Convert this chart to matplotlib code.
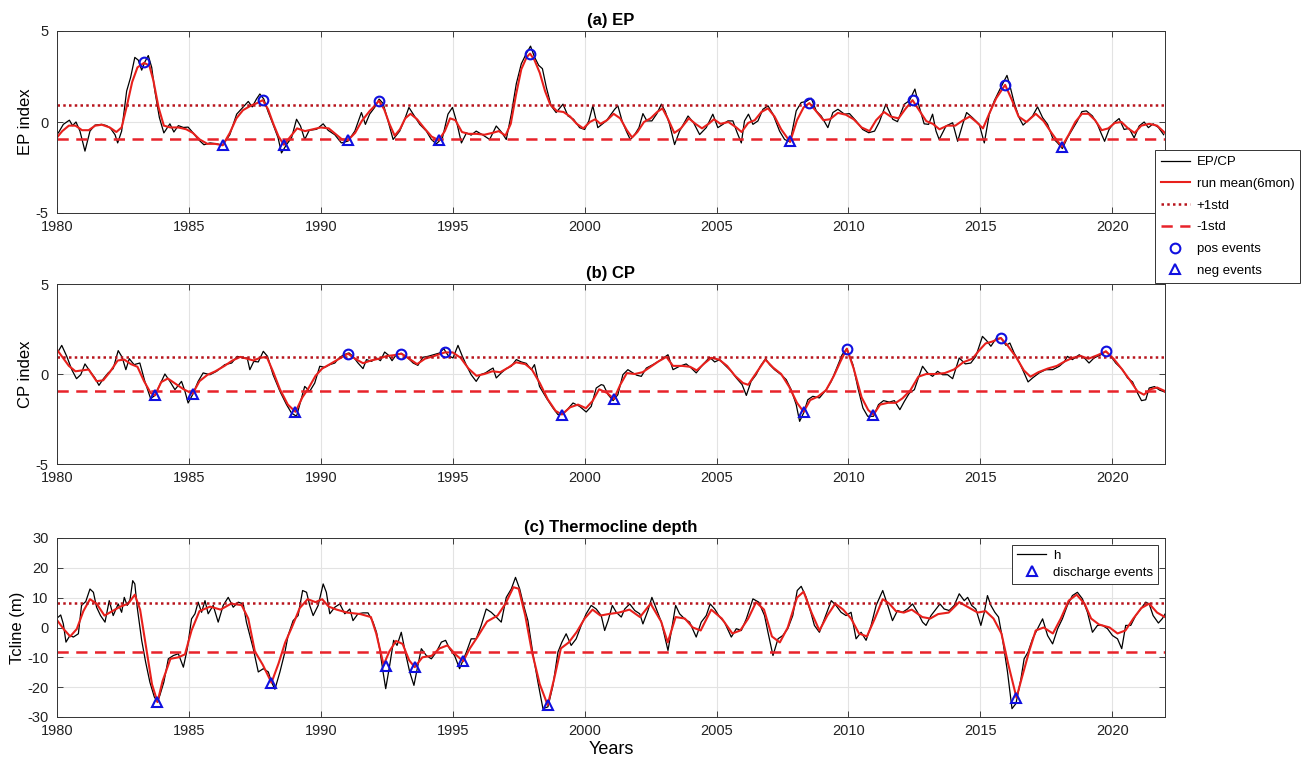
import matplotlib
matplotlib.use("Agg")
import matplotlib.pyplot as plt
import numpy as np

plt.rcParams['font.family'] = ['Liberation Sans', 'DejaVu Sans']
plt.rcParams['axes.unicode_minus'] = False

# ---------------- EP index ----------------
ep_t = [1980.05,1980.24,1980.47,1980.59,1980.72,1980.87,1981.06,1981.25,1981.44,1981.69,1981.88,1982.03,1982.2,1982.3,1982.45,1982.64,1982.79,1982.95,1983.08,1983.21,1983.33,1983.46,1983.59,1983.71,1983.88,1984.05,1984.28,1984.43,1984.6,1984.79,1984.97,1985.16,1985.35,1985.57,1985.8,1986.05,1986.28,1986.55,1986.81,1987.06,1987.25,1987.4,1987.56,1987.69,1987.84,1988.0,1988.19,1988.38,1988.51,1988.7,1988.89,1989.08,1989.23,1989.39,1989.56,1989.84,
        1990.09,1990.28,1990.53,1990.78,1991.03,1991.29,1991.54,1991.69,1991.85,1992.04,1992.21,1992.36,1992.55,1992.74,1992.99,1993.18,1993.34,1993.52,1993.75,1994.0,1994.19,1994.38,1994.61,1994.82,1994.99,1995.14,1995.33,1995.52,1995.7,1995.89,1996.15,1996.4,1996.65,1996.84,1997.03,1997.22,1997.41,1997.6,1997.79,1997.95,1998.1,1998.26,1998.4,1998.55,1998.73,1998.92,1999.18,1999.37,1999.58,1999.81,2000.0,2000.16,2000.31,2000.5,
        2000.82,2001.14,2001.26,2001.42,2001.58,2001.73,2001.9,2002.06,2002.21,2002.36,2002.55,2002.74,2002.91,2003.06,2003.22,2003.41,2003.6,2003.92,2004.13,2004.36,2004.61,2004.86,2005.05,2005.24,2005.43,2005.62,2005.77,2005.94,2006.06,2006.21,2006.38,2006.57,2006.76,2006.95,2007.14,2007.39,2007.58,2007.79,2008.02,2008.21,2008.4,2008.59,2008.78,2008.97,2009.22,2009.41,2009.6,2009.85,2010.04,2010.29,2010.54,2010.77,2010.99,
        2011.17,2011.42,2011.68,2011.86,2012.12,2012.31,2012.52,2012.69,2012.87,2013.04,2013.19,2013.32,2013.44,2013.7,2013.95,2014.14,2014.33,2014.48,2014.7,2014.96,2015.15,2015.34,2015.53,2015.78,2016.01,2016.12,2016.28,2016.47,2016.62,2016.79,2016.98,2017.17,2017.36,2017.55,2017.74,2017.93,2018.11,2018.3,2018.49,2018.68,2018.85,2019.02,2019.25,2019.44,2019.57,2019.71,2019.88,2020.07,2020.26,2020.45,2020.64,2020.83,2021.02,2021.21,2021.37,2021.55,2021.75,2021.95]
ep_v = [-0.6,-0.13,0.1,-0.2,0.0,-0.5,-1.6,-0.5,-0.17,-0.13,-0.2,-0.35,-0.7,-1.15,-0.5,1.7,2.45,3.55,3.4,2.85,3.3,3.65,3.0,1.7,0.25,-0.6,-0.1,-0.55,-0.2,-0.3,-0.28,-0.6,-0.95,-1.25,-1.15,-1.2,-1.28,-0.7,0.43,0.83,1.13,0.83,1.26,1.54,1.26,0.57,-0.13,-0.87,-1.7,-1.24,-0.87,0.15,-0.22,-0.96,-0.46,-0.4,
        -0.1,-0.46,-0.7,-1.15,-1.05,-0.5,0.52,-0.13,0.43,0.8,1.26,1.02,0.05,-0.96,-0.5,0.15,0.8,0.39,-0.13,-0.5,-0.96,-1.2,-0.87,0.43,0.8,0.05,-1.15,-0.6,-0.72,-0.5,-0.72,-0.96,-0.22,-0.54,-0.96,0.43,2.1,3.2,3.76,4.17,3.57,3.11,2.93,1.9,0.89,0.52,0.98,0.33,0.15,-0.31,-0.41,0.06,0.89,-0.31,
        0.06,0.7,0.89,0.06,-0.5,-0.96,-0.69,-0.31,0.46,0.06,0.06,0.46,0.98,0.57,-0.13,-1.24,-0.5,0.33,-0.04,-0.69,-0.31,0.43,-0.31,-0.13,0.06,0.06,-0.54,-1.15,0.06,0.43,-0.13,0.06,0.7,0.89,0.43,-0.5,-0.96,-1.09,0.61,1.07,1.13,1.31,0.61,0.33,-0.31,0.52,0.7,0.43,0.46,0.06,-0.41,-0.59,-0.5,
        0.0,0.98,0.15,0.02,0.98,1.17,1.81,0.8,-0.1,-0.13,0.43,-0.5,-0.96,-0.22,-0.04,-1.06,-0.13,0.52,0.24,-0.13,-1.15,0.43,1.17,1.91,2.56,2.0,1.07,0.24,-0.17,0.06,0.33,0.83,0.24,-0.13,-0.87,-1.15,-1.46,-0.87,-0.41,0.06,0.57,0.61,0.33,-0.13,-0.59,-1.06,-0.41,-0.04,0.19,-0.41,-0.35,-0.87,-0.22,0.0,-0.31,-0.1,-0.3,-0.7]

ep_sm_t = [1980.0,1980.2,1980.45,1980.7,1980.95,1981.2,1981.45,1981.7,1982.0,1982.25,1982.45,1982.65,1982.85,1983.05,1983.3,1983.5,1983.65,1983.85,1984.05,1984.3,1984.6,1984.9,1985.15,1985.4,1985.7,1986.0,1986.28,1986.55,1986.8,1987.05,1987.35,1987.6,1987.8,1988.0,1988.2,1988.4,1988.6,1988.85,1989.1,1989.4,1989.7,
           1990.0,1990.3,1990.55,1990.8,1991.03,1991.3,1991.55,1991.85,1992.05,1992.2,1992.4,1992.6,1992.8,1993.0,1993.2,1993.4,1993.65,1993.9,1994.2,1994.47,1994.7,1994.9,1995.1,1995.35,1995.6,1995.9,1996.2,1996.5,1996.75,1997.0,1997.2,1997.4,1997.6,1997.8,1997.93,1998.1,1998.3,1998.5,1998.7,1998.95,1999.2,1999.45,1999.7,1999.95,2000.2,2000.4,
           2000.6,2000.85,2001.1,2001.35,2001.6,2001.8,2002.0,2002.25,2002.5,2002.75,2002.95,2003.15,2003.4,2003.65,2003.95,2004.2,2004.45,2004.7,2004.9,2005.15,2005.45,2005.75,2005.95,2006.2,2006.45,2006.7,2006.95,2007.2,2007.45,2007.79,2008.05,2008.3,2008.52,2008.8,2009.05,2009.3,2009.6,2009.9,2010.2,2010.5,2010.8,
           2011.05,2011.35,2011.6,2011.9,2012.15,2012.43,2012.7,2012.95,2013.2,2013.45,2013.75,2014.05,2014.35,2014.6,2014.85,2015.1,2015.35,2015.6,2015.94,2016.2,2016.45,2016.75,2017.1,2017.4,2017.7,2017.9,2018.09,2018.35,2018.6,2018.85,2019.1,2019.35,2019.6,2019.85,2020.1,2020.35,2020.6,2020.85,2021.1,2021.4,2021.7,2022.0]
ep_sm_v = [-0.85,-0.5,-0.2,-0.2,-0.45,-0.45,-0.2,-0.15,-0.3,-0.55,-0.3,0.9,2.2,3.0,3.25,3.1,2.3,0.8,-0.2,-0.3,-0.3,-0.4,-0.6,-0.95,-1.2,-1.2,-1.28,-0.6,0.2,0.65,0.9,1.05,1.2,0.7,-0.1,-0.8,-1.25,-0.8,-0.35,-0.5,-0.4,
           -0.3,-0.35,-0.65,-0.95,-1.0,-0.6,0.05,0.6,0.9,1.17,0.7,-0.1,-0.75,-0.4,0.2,0.45,0.15,-0.3,-0.8,-1.0,-0.5,0.2,0.1,-0.55,-0.65,-0.65,-0.7,-0.6,-0.5,-0.75,-0.1,1.5,2.9,3.55,3.76,3.4,2.7,1.7,0.95,0.6,0.55,0.3,-0.1,-0.35,0.0,0.15,
           -0.1,0.1,0.45,0.2,-0.45,-0.85,-0.55,0.0,0.2,0.55,0.75,0.2,-0.6,-0.35,0.2,-0.1,-0.35,-0.1,0.15,-0.1,0.0,-0.3,-0.55,-0.05,0.1,0.55,0.75,0.3,-0.4,-1.09,0.1,0.8,1.04,0.55,0.1,0.15,0.5,0.4,0.15,-0.3,-0.5,
           0.1,0.55,0.3,0.2,0.7,1.2,0.6,0.05,-0.1,-0.4,-0.2,-0.2,0.1,0.3,0.0,-0.35,0.5,1.3,2.04,1.2,0.3,0.0,0.45,0.05,-0.6,-1.0,-1.35,-0.7,0.0,0.45,0.45,0.1,-0.45,-0.35,-0.05,0.0,-0.35,-0.6,-0.2,-0.1,-0.2,-0.6]
ep_pos_t = [1983.3, 1987.8, 1992.2, 1997.93, 2008.52, 2012.43, 2015.94]
ep_pos_v = [3.3, 1.2, 1.17, 3.76, 1.04, 1.2, 2.04]
ep_neg_t = [1986.28, 1988.6, 1991.03, 1994.47, 2007.79, 2018.09]
ep_neg_v = [-1.28, -1.25, -1.0, -1.0, -1.07, -1.35]
ep_std = 0.93

# ---------------- CP index ----------------
cp_t = [1980.05,1980.18,1980.37,1980.56,1980.74,1980.9,1981.06,1981.25,1981.44,1981.59,1981.76,1981.94,1982.13,1982.32,1982.47,1982.61,1982.74,1982.92,1983.14,1983.33,1983.55,1983.71,1983.9,1984.09,1984.28,1984.47,1984.72,1984.85,1984.97,1985.14,1985.35,1985.54,1985.8,1986.05,1986.36,1986.62,1986.83,1987.06,1987.21,1987.31,1987.46,1987.63,1987.82,1987.98,1988.19,1988.45,1988.7,1988.89,1989.08,1989.27,1989.39,1989.58,1989.77,1989.96,
        1990.15,1990.34,1990.53,1990.69,1990.87,1991.07,1991.22,1991.41,1991.6,1991.73,1991.92,1992.11,1992.26,1992.42,1992.57,1992.7,1992.86,1993.05,1993.27,1993.5,1993.68,1993.87,1994.06,1994.28,1994.51,1994.66,1994.82,1995.01,1995.2,1995.35,1995.52,1995.7,1995.89,1996.05,1996.24,1996.42,1996.53,1996.65,1996.84,1997.03,1997.22,1997.41,1997.6,1997.79,1997.98,1998.1,1998.29,1998.55,1998.8,1998.99,1999.18,1999.37,1999.56,1999.81,2000.06,2000.25,2000.44,2000.63,
        2000.72,2000.89,2001.08,2001.26,2001.45,2001.64,2001.83,2001.98,2002.15,2002.34,2002.59,2002.84,2003.16,2003.35,2003.6,2003.85,2004.04,2004.23,2004.48,2004.74,2004.93,2005.12,2005.3,2005.56,2005.75,2005.97,2006.13,2006.31,2006.5,2006.66,2006.86,2007.01,2007.2,2007.45,2007.64,2007.83,2008.02,2008.15,2008.3,2008.46,2008.65,2008.9,2009.16,2009.35,2009.53,2009.76,2009.94,2010.17,2010.36,2010.55,2010.73,2010.95,2011.14,2011.33,
        2011.55,2011.74,2011.95,2012.12,2012.31,2012.5,2012.65,2012.81,2013.0,2013.19,2013.38,2013.57,2013.76,2013.95,2014.2,2014.43,2014.64,2014.83,2015.08,2015.24,2015.4,2015.59,2015.78,2015.97,2016.12,2016.28,2016.47,2016.66,2016.81,2016.98,2017.23,2017.48,2017.74,2017.99,2018.18,2018.3,2018.49,2018.75,2018.97,2019.12,2019.31,2019.57,2019.76,2019.95,2020.13,2020.39,2020.58,2020.77,2020.96,2021.11,2021.27,2021.4,2021.6,2021.8,2022.0]
cp_v = [1.26,1.59,0.98,0.24,-0.26,-0.04,0.56,0.15,-0.22,-0.63,-0.26,0.06,0.3,1.3,0.93,0.24,0.85,0.52,0.61,-0.41,-1.37,-1.19,-0.59,0.0,-0.41,-0.87,-0.41,-0.96,-1.61,-1.15,-0.41,0.06,-0.04,0.15,0.52,0.61,0.98,0.89,0.89,0.24,0.7,0.67,1.26,0.98,-0.04,-0.96,-1.7,-2.17,-2.35,-1.33,-0.69,-0.96,-0.5,0.43,
        0.37,0.52,0.61,0.89,1.07,1.17,0.98,0.61,0.3,0.8,0.7,0.89,0.74,1.22,1.04,0.74,1.07,1.15,0.93,0.61,0.48,0.93,0.98,1.07,1.17,1.41,1.04,0.89,1.59,1.04,0.48,-0.04,-0.41,-0.04,0.06,0.24,0.33,-0.22,0.06,0.3,0.43,0.8,0.67,0.59,0.24,0.52,-0.69,-1.33,-1.89,-2.26,-2.22,-1.93,-1.61,-1.8,-2.11,-1.8,-0.78,-0.59,
        -0.63,-1.15,-1.48,-1.15,-0.04,0.24,0.06,-0.07,-0.13,0.33,0.52,0.74,1.07,0.24,0.43,0.56,0.33,0.06,0.52,0.93,0.67,0.8,0.52,0.15,-0.22,-0.59,-1.19,-0.41,-0.04,0.43,0.85,0.52,0.24,-0.04,-0.31,-0.87,-1.7,-2.63,-2.17,-1.43,-1.24,-1.33,-0.87,-0.41,0.24,1.07,1.41,0.52,-0.78,-1.89,-2.35,-2.35,-1.7,-1.48,
        -1.56,-1.48,-1.98,-1.52,-1.06,-0.87,-0.22,0.43,0.06,-0.13,0.15,-0.04,-0.04,-0.26,0.89,0.56,0.61,0.98,2.09,1.85,1.54,1.96,2.0,1.59,1.72,1.17,0.67,0.06,-0.44,-0.22,0.06,0.24,0.24,0.43,0.67,0.98,0.8,1.07,0.85,0.61,0.89,1.07,1.26,0.98,0.61,0.24,-0.22,-0.44,-1.06,-1.48,-1.43,-0.78,-0.7,-0.9,-1.0]

cp_sm_t = [1980.0,1980.2,1980.45,1980.7,1980.95,1981.2,1981.5,1981.75,1982.0,1982.3,1982.55,1982.8,1983.05,1983.3,1983.55,1983.71,1983.95,1984.2,1984.5,1984.8,1985.14,1985.4,1985.7,1986.0,1986.35,1986.65,1986.95,1987.2,1987.45,1987.7,1987.95,1988.2,1988.45,1988.75,1989.04,1989.3,1989.55,1989.8,
           1990.05,1990.35,1990.7,1991.03,1991.3,1991.6,1991.9,1992.2,1992.5,1992.8,1993.05,1993.35,1993.65,1993.95,1994.3,1994.7,1995.0,1995.3,1995.6,1995.9,1996.2,1996.5,1996.8,1997.1,1997.4,1997.75,1998.0,1998.3,1998.6,1998.9,1999.14,1999.45,1999.75,2000.05,2000.3,2000.55,
           2000.85,2001.11,2001.35,2001.6,2001.9,2002.2,2002.5,2002.8,2003.1,2003.35,2003.7,2004.0,2004.25,2004.55,2004.8,2005.1,2005.4,2005.7,2006.0,2006.2,2006.5,2006.85,2007.15,2007.45,2007.75,2008.05,2008.3,2008.55,2008.85,2009.15,2009.45,2009.7,2009.94,2010.2,2010.5,2010.75,2010.95,
           2011.2,2011.5,2011.8,2012.05,2012.35,2012.65,2012.95,2013.3,2013.65,2014.0,2014.35,2014.7,2014.95,2015.2,2015.45,2015.78,2016.05,2016.35,2016.65,2016.9,2017.2,2017.55,2017.9,2018.2,2018.5,2018.8,2019.1,2019.45,2019.76,2020.05,2020.35,2020.65,2020.95,2021.2,2021.45,2021.7,2022.0]
cp_sm_v = [1.35,0.95,0.45,0.15,0.2,0.25,-0.4,-0.35,0.1,0.75,0.8,0.55,0.4,-0.4,-1.05,-1.19,-0.45,-0.25,-0.55,-0.85,-1.1,-0.4,-0.05,0.15,0.45,0.75,0.95,0.85,0.75,0.9,0.95,0.1,-0.85,-1.7,-2.1,-1.3,-0.75,-0.1,
           0.3,0.55,0.85,1.13,0.85,0.6,0.75,0.85,1.0,1.05,1.13,0.85,0.55,0.85,1.0,1.2,1.2,0.9,0.3,-0.1,0.0,0.15,0.1,0.35,0.65,0.55,0.25,-0.5,-1.4,-2.05,-2.25,-1.85,-1.7,-1.9,-1.5,-0.85,
           -1.05,-1.39,-0.6,0.05,0.0,0.1,0.4,0.7,0.95,0.45,0.45,0.4,0.2,0.6,0.9,0.8,0.45,-0.1,-0.5,-0.6,0.05,0.8,0.35,0.0,-0.7,-1.6,-2.1,-1.45,-1.25,-0.9,-0.1,0.7,1.41,0.3,-1.3,-2.0,-2.26,
           -1.7,-1.6,-1.6,-1.35,-0.9,-0.15,0.0,0.0,0.05,0.25,0.65,0.85,1.3,1.7,1.8,2.0,1.55,0.95,0.2,-0.15,0.1,0.3,0.45,0.7,0.9,1.0,0.85,1.05,1.26,0.85,0.3,-0.3,-0.95,-1.15,-0.85,-0.75,-0.95]
cp_pos_t = [1991.03, 1993.05, 1994.7, 2009.94, 2015.78, 2019.76]
cp_pos_v = [1.13, 1.13, 1.2, 1.41, 2.0, 1.26]
cp_neg_t = [1983.71, 1985.14, 1989.04, 1999.14, 2001.11, 2008.3, 2010.95]
cp_neg_v = [-1.19, -1.1, -2.1, -2.25, -1.39, -2.1, -2.26]
cp_std = 0.96

# ---------------- Thermocline depth ----------------
h_t = [1980.05,1980.14,1980.24,1980.34,1980.49,1980.62,1980.81,1980.93,1981.09,1981.25,1981.38,1981.5,1981.65,1981.82,1981.98,1982.13,1982.32,1982.45,1982.55,1982.66,1982.77,1982.87,1982.95,1983.04,1983.21,1983.36,1983.52,1983.69,1983.81,1983.9,1984.05,1984.22,1984.41,1984.6,1984.79,1984.94,1985.1,1985.23,1985.35,1985.48,1985.61,1985.73,1985.92,1986.11,1986.3,1986.49,1986.68,1986.87,1987.06,1987.18,1987.31,1987.44,1987.63,1987.82,1988.01,1988.13,1988.26,1988.45,1988.64,1988.76,1988.95,1989.14,1989.31,1989.46,1989.58,1989.71,1989.9,
       1990.09,1990.21,1990.34,1990.53,1990.72,1990.91,1991.1,1991.22,1991.41,1991.6,1991.79,1991.98,1992.11,1992.23,1992.36,1992.46,1992.61,1992.76,1992.89,1993.05,1993.2,1993.37,1993.53,1993.68,1993.81,1994.0,1994.19,1994.38,1994.57,1994.73,1994.88,1995.07,1995.26,1995.52,1995.7,1995.89,1996.08,1996.27,1996.46,1996.65,1996.84,1997.03,1997.22,1997.38,1997.54,1997.69,1997.85,1998.04,1998.23,1998.42,1998.61,1998.8,1998.99,1999.14,1999.3,1999.49,1999.68,1999.87,2000.06,2000.25,2000.44,2000.63,2000.76,
       2000.89,2001.05,2001.2,2001.39,2001.52,2001.71,2001.9,2002.09,2002.21,2002.4,2002.55,2002.72,2002.91,2003.16,2003.28,2003.45,2003.6,2003.79,2003.98,2004.23,2004.42,2004.61,2004.76,2004.93,2005.12,2005.3,2005.56,2005.75,2005.94,2006.13,2006.38,2006.6,2006.82,2006.95,2007.14,2007.33,2007.51,2007.7,2007.89,2008.06,2008.21,2008.4,2008.59,2008.71,2008.9,2009.09,2009.35,2009.53,2009.72,2009.91,2010.1,2010.29,2010.48,2010.67,2010.86,2011.05,2011.3,
       2011.49,2011.67,2011.86,2012.05,2012.24,2012.43,2012.62,2012.81,2012.94,2013.13,2013.32,2013.47,2013.63,2013.82,2014.01,2014.2,2014.39,2014.52,2014.67,2014.83,2015.02,2015.15,2015.27,2015.4,2015.55,2015.69,2015.84,2016.03,2016.2,2016.35,2016.54,2016.66,2016.81,2016.98,2017.17,2017.36,2017.55,2017.74,2017.93,2018.11,2018.3,2018.49,2018.68,2018.87,2019.06,2019.25,2019.44,2019.63,2019.82,2020.01,2020.2,2020.36,2020.51,2020.7,2020.89,2021.08,2021.27,2021.4,2021.55,2021.75,2021.9,2022.0]
h_v = [3.5,4.2,1.2,-4.9,-2.7,-3.2,-2.1,7.4,8.7,12.9,11.8,6.8,4.0,1.8,9.0,4.0,7.9,5.1,10.1,7.4,9.4,15.7,14.6,6.8,-4.3,-11.6,-18.3,-23.3,-25.0,-22.7,-18.3,-10.5,-9.4,-8.8,-13.3,-7.1,2.9,4.6,8.5,5.1,9.0,4.6,7.4,1.8,7.4,10.1,6.8,8.5,7.9,1.8,-2.7,-7.1,-14.9,-13.8,-14.9,-18.3,-20.7,-14.9,-8.2,-2.7,2.3,4.0,12.4,11.8,7.4,4.0,7.4,
       14.6,11.8,4.6,6.8,7.9,4.6,6.2,2.3,4.6,4.9,4.9,1.8,-1.6,-7.1,-14.9,-20.5,-12.7,-4.3,-6.0,-1.6,-8.2,-14.9,-19.4,-12.7,-7.1,-9.4,-10.5,-8.2,-4.9,-4.3,-7.1,-9.4,-13.8,-8.2,-3.8,-3.8,0.7,6.2,5.1,3.5,1.8,10.1,12.9,16.8,12.9,7.4,2.3,-8.8,-18.3,-27.2,-26.6,-19.4,-8.2,-4.9,-2.1,-6.0,-3.8,0.7,4.6,7.4,6.2,4.0,-1.0,
       2.3,7.4,5.1,3.5,6.2,7.9,5.7,4.6,1.2,5.7,10.1,6.2,1.8,-7.7,-1.6,7.4,4.6,2.9,1.8,-3.2,1.8,4.0,7.9,6.2,3.5,1.8,-3.2,-0.4,-1.0,2.9,9.6,8.5,4.0,-1.6,-9.4,-3.8,-2.7,-0.4,4.0,12.4,13.8,10.1,4.6,0.7,-1.6,2.9,9.0,7.4,5.1,4.0,5.1,-3.8,-1.6,-4.3,0.7,7.4,12.4,
       7.4,2.3,5.7,5.1,6.2,7.9,5.1,1.8,0.7,4.0,6.2,7.9,6.2,5.7,7.4,11.3,9.0,10.1,7.4,6.2,0.7,5.1,10.7,7.4,5.1,3.5,-3.8,-14.9,-27.2,-25.5,-17.2,-10.5,-8.2,-3.8,-0.4,2.9,-2.7,-5.5,-0.4,2.9,7.4,10.7,11.8,9.6,5.1,-1.6,0.7,0.7,-0.4,-2.7,-3.8,-7.1,0.7,0.7,4.0,6.2,8.5,7.9,4.0,1.5,3.0,4.5]

h_sm_t = [1980.0,1980.25,1980.5,1980.75,1981.0,1981.25,1981.5,1981.8,1982.1,1982.4,1982.7,1982.95,1983.15,1983.4,1983.6,1983.81,1984.0,1984.3,1984.6,1984.85,1985.1,1985.4,1985.8,1986.2,1986.6,1987.0,1987.25,1987.5,1987.8,1988.13,1988.4,1988.65,1988.9,1989.2,1989.5,1989.8,
          1990.05,1990.3,1990.6,1991.0,1991.5,1991.9,1992.1,1992.38,1992.6,1992.85,1993.1,1993.35,1993.56,1993.85,1994.2,1994.5,1994.8,1995.1,1995.4,1995.65,1995.95,1996.3,1996.7,1997.0,1997.3,1997.5,1997.75,1998.0,1998.3,1998.6,1998.85,1999.1,1999.4,1999.7,2000.0,2000.3,
          2000.6,2000.9,2001.3,2001.7,2002.1,2002.5,2002.9,2003.15,2003.45,2003.8,2004.1,2004.4,2004.8,2005.2,2005.6,2005.9,2006.2,2006.5,2006.8,2007.1,2007.4,2007.7,2008.05,2008.3,2008.6,2008.9,2009.2,2009.5,2009.8,2010.1,2010.4,2010.7,2011.0,2011.3,
          2011.55,2011.8,2012.1,2012.4,2012.8,2013.1,2013.4,2013.8,2014.2,2014.6,2014.9,2015.2,2015.5,2015.8,2016.05,2016.37,2016.6,2016.85,2017.1,2017.4,2017.75,2018.05,2018.35,2018.65,2018.95,2019.2,2019.5,2019.9,2020.2,2020.5,2020.8,2021.1,2021.4,2021.7,2022.0]
h_sm_v = [2.5,-0.5,-3.0,-0.5,5.5,9.5,8.0,4.0,5.5,7.0,8.0,11.0,6.0,-8.0,-19.0,-25.0,-18.0,-10.5,-10.0,-9.0,-1.0,5.5,7.0,6.0,8.0,7.5,3.0,-8.0,-12.5,-18.5,-12.0,-5.0,0.0,6.5,9.5,8.5,
          9.5,7.0,6.0,5.0,4.5,3.5,-2.0,-12.5,-8.0,-4.5,-5.5,-11.0,-13.3,-10.0,-9.5,-7.0,-6.0,-9.0,-11.3,-7.0,-3.0,2.0,4.0,8.0,13.5,13.0,4.0,-8.0,-19.0,-26.0,-17.0,-7.0,-5.0,-1.5,3.0,6.0,
          4.0,4.5,5.0,6.0,3.5,8.0,2.0,-5.0,3.5,3.0,0.0,-1.0,6.0,3.0,-2.0,-1.0,3.0,8.5,6.0,-3.0,-5.0,0.0,10.0,12.0,5.0,-1.0,4.0,8.0,6.0,3.0,-2.0,-3.0,3.0,9.5,
          8.0,5.5,5.0,6.0,3.5,3.0,4.5,5.0,8.5,6.5,5.0,5.5,3.0,-2.0,-12.0,-23.5,-16.0,-8.0,-1.0,0.0,-2.0,3.0,9.0,11.0,8.0,3.0,1.0,0.0,-2.0,-1.0,3.0,6.5,8.0,5.0,3.5]
h_ev_t = [1983.8, 1988.13, 1992.46, 1993.56, 1995.39, 1998.61, 2016.37]
h_ev_v = [-25.0, -18.5, -12.9, -13.3, -11.3, -26.1, -23.5]
h_std = 8.2

# ---------------- labels ----------------
titles = ['(a) EP', '(b) CP', '(c) Thermocline depth']
ylabels = ['EP index', 'CP index', 'Tcline (m)']
xticks = [1980, 1985, 1990, 1995, 2000, 2005, 2010, 2015, 2020]

W, H = 1304, 764
fig = plt.figure(figsize=(W/100, H/100), dpi=100)

def ax_rect(left, top, right, bottom):
    return [left/W, 1-bottom/H, (right-left)/W, (bottom-top)/H]

axes = [fig.add_axes(ax_rect(57, 31, 1165, 213)),
        fig.add_axes(ax_rect(57, 284, 1165, 464)),
        fig.add_axes(ax_rect(57, 538, 1165, 717))]

BLUE = '#1010e0'
DOT = '#b8141c'
DASH = '#e8232a'
RED = '#e8201c'

series = [(ep_t, ep_v, ep_sm_t, ep_sm_v, ep_std),
          (cp_t, cp_v, cp_sm_t, cp_sm_v, cp_std),
          (h_t, h_v, h_sm_t, h_sm_v, h_std)]

handles = None
for i, ax in enumerate(axes):
    t, v, st, sv, sd = series[i]
    l1, = ax.plot(t, v, color='black', lw=0.9, label='EP/CP')
    l2, = ax.plot(st, sv, color=RED, lw=1.5, label='run mean(6mon)')
    l3 = ax.axhline(sd, color=DOT, lw=1.8, ls=(0, (1, 1.3)), label='+1std')
    l4 = ax.axhline(-sd, color=DASH, lw=1.8, ls=(0, (4.5, 3)), label='-1std')
    ax.set_xlim(1980, 2022)
    ax.set_xticks(xticks)
    ax.grid(True, color='#e3e3e3', lw=0.8)
    ax.set_axisbelow(True)
    ax.tick_params(direction='in', labelsize=10.5, length=4, width=0.6, top=True, right=True,
                   labeltop=False, labelright=False, colors='#222222')
    ax.tick_params(axis='x', pad=5)
    ax.tick_params(axis='y', pad=6)
    for s in ax.spines.values():
        s.set_linewidth(0.7)
        s.set_color('#333333')
    ax.set_title(titles[i], fontsize=12, fontweight='bold', pad=4)
    ax.set_ylabel(ylabels[i], fontsize=12, labelpad=2)
    if i < 2:
        ax.set_ylim(-5, 5)
        ax.set_yticks([-5, 0, 5])
    else:
        ax.set_ylim(-30, 30)
        ax.set_yticks([-30, -20, -10, 0, 10, 20, 30])
    if i == 0:
        handles = [l1, l2, l3, l4]

mk = dict(ls='none', mfc='none', mec=BLUE, mew=1.5, ms=7, zorder=5)
p1, = axes[0].plot(ep_pos_t, ep_pos_v, marker='o', label='pos events', **mk)
n1, = axes[0].plot(ep_neg_t, ep_neg_v, marker='^', label='neg events', **mk)
axes[1].plot(cp_pos_t, cp_pos_v, marker='o', **mk)
axes[1].plot(cp_neg_t, cp_neg_v, marker='^', **mk)
d1, = axes[2].plot(h_ev_t, h_ev_v, marker='^', **mk)

axes[2].set_xlabel('Years', fontsize=13, labelpad=2)

leg = fig.legend(handles + [p1, n1], ['EP/CP', 'run mean(6mon)', '+1std', '-1std', 'pos events', 'neg events'],
                 loc='upper left', bbox_to_anchor=(1155/W, 1-150/H), fontsize=9.5,
                 frameon=True, fancybox=False, edgecolor='#333333', framealpha=1,
                 handlelength=2.2, handletextpad=0.5, borderpad=0.45, labelspacing=0.72,
                 borderaxespad=0.0)
leg.get_frame().set_linewidth(0.7)

hl, = axes[2].plot([], [], color='black', lw=0.9)
leg2 = axes[2].legend([hl, d1], ['h', 'discharge events'], loc='upper right', fontsize=9.5,
                      frameon=True, fancybox=False, edgecolor='#333333', framealpha=1,
                      handlelength=2.2, handletextpad=0.5, borderpad=0.4, labelspacing=0.35)
leg2.get_frame().set_linewidth(0.7)

fig.savefig('out.png', dpi=100)
